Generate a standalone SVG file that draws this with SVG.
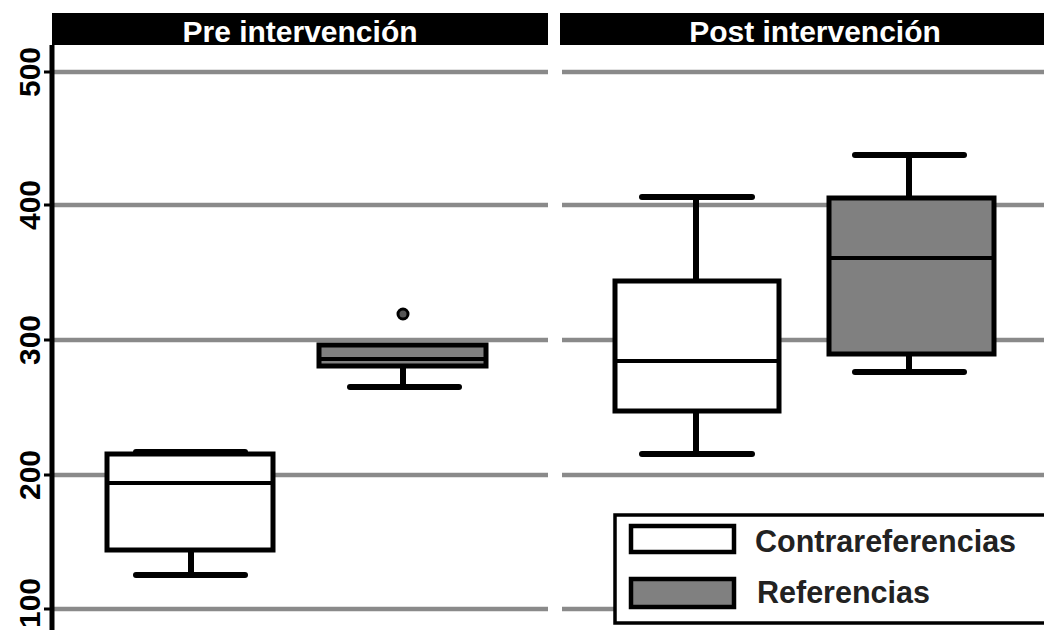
<svg xmlns="http://www.w3.org/2000/svg" width="1044" height="630" viewBox="0 0 1044 630">
<style>
.hdr{fill:#000}
.hdrt{font-family:"Liberation Sans",Arial,sans-serif;font-weight:bold;font-size:30px;fill:#fff;text-anchor:middle}
.grid{stroke:#8a8a8a;stroke-width:4.5;fill:none}
.axis{stroke:#000;stroke-width:5;fill:none}
.tick{stroke:#000;stroke-width:3;fill:none}
.ylab{font-family:"Liberation Sans",Arial,sans-serif;font-weight:bold;font-size:30px;fill:#000;text-anchor:middle}
.box{stroke:#000;stroke-width:5}
.white{fill:#fff}
.gray{fill:#808080}
.med{stroke:#000;stroke-width:4}
.wh{stroke:#000;stroke-width:6;fill:none}
.cap{stroke:#000;stroke-width:6;fill:none;stroke-linecap:round}
.legt{font-family:"Liberation Sans",Arial,sans-serif;font-weight:bold;font-size:30.5px;fill:#222}
</style>
<rect width="1044" height="630" fill="#fff"/>
<g id="headers">
<rect class="hdr" x="52" y="13" width="496" height="32"/>
<text class="hdrt" x="300" y="42">Pre intervención</text>
<rect class="hdr" x="560" y="13" width="490" height="32"/>
<text class="hdrt" x="815" y="42">Post intervención</text>
</g>
<g id="grid">
<line class="grid" x1="52" y1="72" x2="548" y2="72"/>
<line class="grid" x1="52" y1="205" x2="548" y2="205"/>
<line class="grid" x1="52" y1="340" x2="548" y2="340"/>
<line class="grid" x1="52" y1="475" x2="548" y2="475"/>
<line class="grid" x1="52" y1="609" x2="548" y2="609"/>
<line class="grid" x1="562" y1="72" x2="1044" y2="72"/>
<line class="grid" x1="562" y1="205" x2="1044" y2="205"/>
<line class="grid" x1="562" y1="340" x2="1044" y2="340"/>
<line class="grid" x1="562" y1="475" x2="1044" y2="475"/>
<line class="grid" x1="562" y1="609" x2="614" y2="609"/>
</g>
<g id="axis">
<line class="axis" x1="52" y1="45" x2="52" y2="630"/>
<line class="tick" x1="44" y1="72" x2="52" y2="72"/>
<line class="tick" x1="44" y1="205" x2="52" y2="205"/>
<line class="tick" x1="44" y1="340" x2="52" y2="340"/>
<line class="tick" x1="44" y1="475" x2="52" y2="475"/>
<line class="tick" x1="44" y1="609" x2="52" y2="609"/>
<text class="ylab" transform="translate(40,72) rotate(-90)">500</text>
<text class="ylab" transform="translate(40,205) rotate(-90)">400</text>
<text class="ylab" transform="translate(40,340) rotate(-90)">300</text>
<text class="ylab" transform="translate(40,475) rotate(-90)">200</text>
<text class="ylab" transform="translate(40,603) rotate(-90)">100</text>
</g>
<g id="box-pre-contra">
<line class="wh" x1="191" y1="550" x2="191" y2="575"/>
<line class="cap" x1="136" y1="575" x2="245" y2="575"/>
<line class="cap" x1="136" y1="452" x2="245" y2="452"/>
<rect class="box white" x="107" y="454" width="166" height="96"/>
<line class="med" x1="107" y1="483" x2="273" y2="483"/>
</g>
<g id="box-pre-ref">
<line class="wh" x1="403" y1="366" x2="403" y2="387"/>
<line class="cap" x1="350" y1="387" x2="459" y2="387"/>
<rect class="box gray" x="319" y="345" width="167" height="21"/>
<line class="med" x1="319" y1="359" x2="486" y2="359"/>
<circle cx="403" cy="314" r="5" fill="#555" stroke="#000" stroke-width="3"/>
</g>
<g id="box-post-contra">
<line class="wh" x1="696" y1="197" x2="696" y2="281"/>
<line class="cap" x1="642" y1="197" x2="752" y2="197"/>
<line class="wh" x1="696" y1="411" x2="696" y2="454"/>
<line class="cap" x1="642" y1="454" x2="752" y2="454"/>
<rect class="box white" x="615" y="281" width="164" height="130"/>
<line class="med" x1="615" y1="361" x2="779" y2="361"/>
</g>
<g id="box-post-ref">
<line class="wh" x1="909" y1="155" x2="909" y2="198"/>
<line class="cap" x1="855" y1="155" x2="964" y2="155"/>
<line class="wh" x1="909" y1="354" x2="909" y2="372"/>
<line class="cap" x1="855" y1="372" x2="964" y2="372"/>
<rect class="box gray" x="829" y="198" width="165" height="156"/>
<line class="med" x1="829" y1="258" x2="994" y2="258"/>
</g>
<g id="legend">
<rect x="615" y="515" width="440" height="108" fill="#fff" stroke="#000" stroke-width="3.5"/>
<rect x="631" y="526" width="103" height="26" fill="#fff" stroke="#000" stroke-width="4.5"/>
<text class="legt" x="755" y="552">Contrareferencias</text>
<rect x="631" y="579" width="103" height="28" fill="#808080" stroke="#000" stroke-width="4.5"/>
<text class="legt" x="757" y="603">Referencias</text>
</g>
</svg>
